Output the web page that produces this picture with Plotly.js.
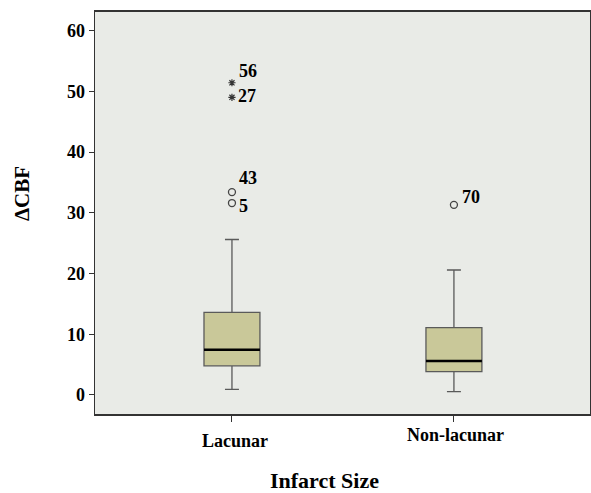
<!DOCTYPE html>
<html>
<head>
<meta charset="utf-8">
<script src="https://cdn.plot.ly/plotly-3.0.1.min.js"></script>
<style>html,body{margin:0;padding:0;background:#fff;}#chart{width:591px;height:493px;}</style>
</head>
<body>
<div id="chart"></div>
<script>
// Data
const categories = ["Lacunar", "Non-lacunar"];
const catPos = [0, 1];
const q1 = [4.8, 3.84];
const median = [7.45, 5.6];
const q3 = [13.6, 11.08];
const lowerFence = [0.94, 0.54];
const upperFence = [25.6, 20.58];

// Outliers: group index, value, case label, kind (extreme = star, outlier = circle)
const outlierGroup = [0, 0, 0, 0, 1];
const outlierValue = [51.4, 49.0, 33.4, 31.6, 31.3];
const outlierLabel = ["56", "27", "43", "5", "70"];
const outlierKind = ["extreme", "extreme", "outlier", "outlier", "outlier"];
const labelShift = [[5, 12], [4, 1], [5, 14], [5, -3], [6, 8]];

const fontFam = "Liberation Serif, Times New Roman, serif";

const traces = [];
traces.push({
  type: "box",
  x: catPos,
  q1: q1, median: median, q3: q3,
  lowerfence: lowerFence, upperfence: upperFence,
  width: 0.252,
  whiskerwidth: 0.25,
  fillcolor: "#c9c899",
  line: {color: "#5a5a5a", width: 1.3},
  boxpoints: false,
  hoverinfo: "skip",
  showlegend: false
});
// median lines (black) drawn as degenerate boxes at the median
traces.push({
  type: "box",
  x: catPos,
  q1: median, median: median, q3: median,
  lowerfence: median, upperfence: median,
  width: 0.252,
  whiskerwidth: 0,
  fillcolor: "rgba(0,0,0,0)",
  line: {color: "#000", width: 2.5},
  boxpoints: false,
  hoverinfo: "skip",
  showlegend: false
});
["extreme", "outlier"].forEach(kind => {
  const xs = [], ys = [];
  outlierKind.forEach((k, i) => { if (k === kind) { xs.push(catPos[outlierGroup[i]]); ys.push(outlierValue[i]); } });
  traces.push({
    type: "scatter", mode: "markers", x: xs, y: ys,
    marker: kind === "extreme"
      ? {symbol: "asterisk-open", size: 6, color: "#333", line: {color: "#333", width: 1.2}}
      : {symbol: "circle-open", size: 7, color: "#444", line: {color: "#444", width: 1.3}},
    hoverinfo: "skip", showlegend: false
  });
});

const annotations = outlierLabel.map((t, i) => ({
  x: catPos[outlierGroup[i]], y: outlierValue[i], xref: "x", yref: "y",
  text: t, showarrow: false, xanchor: "left", yanchor: "middle",
  xshift: labelShift[i][0], yshift: labelShift[i][1],
  font: {family: fontFam, size: 18, color: "#000", weight: 700}
}));
// category labels (staggered as in the reference)
const catYShift = [-27, -21];
categories.forEach((c, i) => annotations.push({
  x: catPos[i], y: 0, xref: "x", yref: "paper", text: c, showarrow: false,
  xanchor: "center", yanchor: "middle", yshift: catYShift[i], xshift: i === 0 ? 3 : 2,
  font: {family: fontFam, size: 18, color: "#000", weight: 700}
}));
annotations.push({
  x: 0.464, y: 0, xref: "paper", yref: "paper", text: "Infarct Size", showarrow: false,
  xanchor: "center", yanchor: "middle", yshift: -66,
  font: {family: fontFam, size: 22, color: "#000", weight: 700}
});
annotations.push({
  x: 0, y: 0.547, xref: "paper", yref: "paper", text: "ΔCBF", showarrow: false,
  textangle: -90, xanchor: "center", yanchor: "middle", xshift: -73,
  font: {family: fontFam, size: 21, color: "#000", weight: 700}
});

const layout = {
  width: 591, height: 493,
  margin: {l: 95, r: 1, t: 12, b: 79},
  paper_bgcolor: "#ffffff",
  plot_bgcolor: "#e9ebe7",
  showlegend: false,
  xaxis: {
    range: [-0.617, 1.613], tickvals: catPos, ticktext: ["", ""],
    ticks: "outside", ticklen: 6, tickcolor: "#333", tickwidth: 1,
    showgrid: false, zeroline: false,
    showline: true, linecolor: "#333", linewidth: 2, mirror: true
  },
  yaxis: {
    range: [-3.13, 63.05], tickvals: [0, 10, 20, 30, 40, 50, 60],
    ticks: "outside", ticklen: 5, tickcolor: "#333", tickwidth: 1,
    showgrid: false, zeroline: false,
    showline: true, linecolor: "#333", linewidth: 1.5, mirror: true,
    tickfont: {family: fontFam, size: 18, color: "#000", weight: 700}
  },
  annotations: annotations
};
Plotly.newPlot("chart", traces, layout, {staticPlot: true, displayModeBar: false});
</script>
</body>
</html>
